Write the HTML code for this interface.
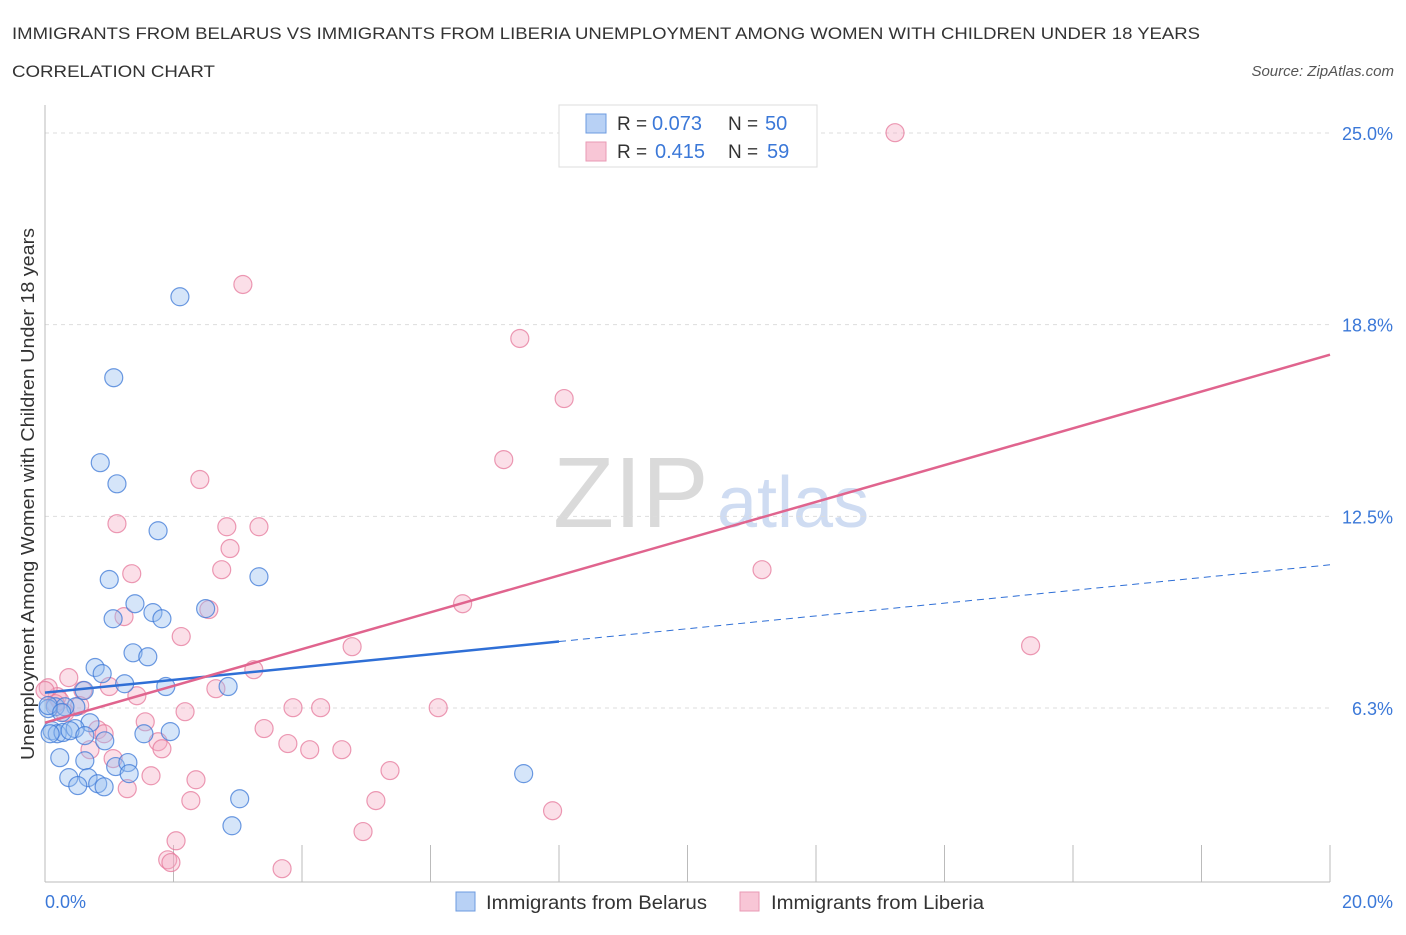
<!DOCTYPE html>
<html><head><meta charset="utf-8"><style>
body{margin:0;background:#fff;font-family:"Liberation Sans",sans-serif;}
svg text{font-family:"Liberation Sans",sans-serif;}
</style></head><body>
<svg width="1406" height="930" xmlns="http://www.w3.org/2000/svg">
<text x="12" y="39" font-size="17" fill="#333" textLength="1188" lengthAdjust="spacingAndGlyphs">IMMIGRANTS FROM BELARUS VS IMMIGRANTS FROM LIBERIA UNEMPLOYMENT AMONG WOMEN WITH CHILDREN UNDER 18 YEARS</text>
<text x="12" y="77" font-size="17" fill="#333" textLength="203" lengthAdjust="spacingAndGlyphs">CORRELATION CHART</text>
<text x="1394" y="76" font-size="15" fill="#555" font-style="italic" text-anchor="end">Source: ZipAtlas.com</text>
<text x="553" y="527" font-size="100" fill="#dadada" font-family="Liberation Serif">ZIP</text>
<text x="717" y="527" font-size="72" fill="#cfdcf2">atlas</text>
<g id="grid"></g>
<g id="axes"></g>
<g id="pts"></g>
<g id="lines"></g>
<text x="34" y="494" font-size="18" fill="#333" text-anchor="middle" textLength="532" lengthAdjust="spacingAndGlyphs" transform="rotate(-90 34 494)">Unemployment Among Women with Children Under 18 years</text>
<g>
<rect x="559" y="105" width="258" height="62" fill="#fff" stroke="#ddd"/>
<rect x="586" y="114" width="20" height="19" fill="#b8d1f5" stroke="#6d9be0"/>
<rect x="586" y="142" width="20" height="19" fill="#f8c6d6" stroke="#e99ab4"/>
<text x="617" y="130" font-size="19" fill="#333">R =</text>
<text x="652" y="130" font-size="20" fill="#3b78d8">0.073</text>
<text x="728" y="130" font-size="19" fill="#333">N =</text>
<text x="765" y="130" font-size="20" fill="#3b78d8">50</text>
<text x="617" y="158" font-size="19" fill="#333">R =</text>
<text x="655" y="158" font-size="20" fill="#3b78d8">0.415</text>
<text x="728" y="158" font-size="19" fill="#333">N =</text>
<text x="767" y="158" font-size="20" fill="#3b78d8">59</text>
</g>
<g>
<rect x="456" y="892" width="19" height="19" fill="#b8d1f5" stroke="#6d9be0"/>
<text x="486" y="909" font-size="19" fill="#333" textLength="221" lengthAdjust="spacingAndGlyphs">Immigrants from Belarus</text>
<rect x="740" y="892" width="19" height="19" fill="#f8c6d6" stroke="#e99ab4"/>
<text x="771" y="909" font-size="19" fill="#333" textLength="213" lengthAdjust="spacingAndGlyphs">Immigrants from Liberia</text>
</g>
</svg>
<script>
const yTicks=[25,18.75,12.5,6.25];
const yTickLabels=["25.0%","18.8%","12.5%","6.3%"];
const xTickLabels=["0.0%","20.0%"];
const belarusX=[2.10,1.07,0.86,1.12,1.76,3.33,1.00,1.40,1.68,1.06,1.82,2.50,1.37,1.60,0.78,0.89,1.24,1.88,2.85,0.61,0.48,0.16,0.31,0.05,0.70,1.54,1.95,0.93,0.11,0.19,0.28,0.47,0.39,0.62,0.23,0.62,1.10,1.29,1.31,0.37,0.67,0.82,0.51,0.92,3.03,2.91,7.45,0.05,0.08,0.26];
const belarusY=[19.66,17.02,14.25,13.56,12.03,10.53,10.44,9.65,9.36,9.16,9.16,9.49,8.05,7.92,7.57,7.37,7.04,6.95,6.95,6.82,6.29,6.29,6.29,6.23,5.77,5.41,5.48,5.18,5.51,5.41,5.45,5.58,5.51,5.35,4.63,4.53,4.34,4.47,4.11,3.98,3.98,3.78,3.72,3.68,3.29,2.41,4.11,6.33,5.41,6.10];
const liberiaX=[13.23,3.08,7.39,8.08,7.14,2.41,1.12,2.83,3.33,2.88,1.35,2.75,11.16,6.50,2.55,1.23,2.12,4.78,15.34,3.25,0.37,0.19,0.59,1.00,1.43,2.66,2.18,3.86,4.29,6.12,0.23,0.54,1.56,3.41,0.82,0.92,1.76,1.82,0.70,3.78,4.12,4.62,1.06,5.37,1.65,2.35,1.28,2.27,5.15,7.90,2.04,4.95,1.91,1.96,3.69,0.05,0.16,0.31,0.00];
const liberiaY=[25.01,20.06,18.30,16.34,14.35,13.70,12.26,12.16,12.16,11.45,10.63,10.76,10.76,9.65,9.46,9.23,8.58,8.25,8.28,7.50,7.24,6.62,6.82,6.95,6.65,6.88,6.13,6.26,6.26,6.26,6.49,6.33,5.80,5.58,5.54,5.41,5.15,4.92,4.89,5.09,4.89,4.89,4.60,4.21,4.04,3.91,3.62,3.23,3.23,2.90,1.92,2.22,1.30,1.21,1.01,6.91,6.39,6.10,6.82];
const belarusTrend=[6.75,10.92];
const liberiaTrend=[5.77,17.77];
const NS="http://www.w3.org/2000/svg";
const X0=45,X1=1330,YT=133,YB=708;
function sx(v){return X0+v/20*(X1-X0);}
function sy(v){return YT+(25-v)/(25-6.25)*(YB-YT);}
function mk(t,a,p){const e=document.createElementNS(NS,t);for(const k in a)e.setAttribute(k,a[k]);p.appendChild(e);return e;}
const grid=document.getElementById('grid'),axes=document.getElementById('axes'),pts=document.getElementById('pts'),lines=document.getElementById('lines');
yTicks.forEach((v,i)=>{
 const l=mk('line',{x1:X0,x2:X1,y1:sy(v),y2:sy(v),stroke:'#ddd','stroke-dasharray':'4,4'},grid);
 
 
 const t=mk('text',{x:1393,y:sy(v)+7,'font-size':18,fill:'#3b78d8','text-anchor':'end'},grid);
 t.textContent=yTickLabels[i];
 
 
});
const ya=mk('line',{x1:X0,x2:X0,y1:105,y2:882,stroke:'#bbb'},axes);


const xa=mk('line',{x1:X0,x2:X1,y1:882,y2:882,stroke:'#bbb'},axes);


for(let k=1;k<=10;k++){
 const l=mk('line',{x1:sx(2*k),x2:sx(2*k),y1:845,y2:882,stroke:'#bbb'},axes);
 
 
}
[[0,'start',45],[20,'end',1393]].forEach((d,i)=>{
 const t=mk('text',{x:d[2],y:908,'font-size':18,fill:'#3b78d8','text-anchor':d[1]},axes);
 t.textContent=xTickLabels[i];
 
 
});
function drawPts(xs,ys,fill,stroke,name){
 xs.forEach((x,i)=>{
  const c=mk('circle',{cx:sx(x),cy:sy(ys[i]),r:9,fill:fill,stroke:stroke,'stroke-width':1.2},pts);
  
  
 });
}
drawPts(liberiaX,liberiaY,'rgba(245,170,195,0.38)','rgba(230,120,155,0.75)','liberia-point');
drawPts(belarusX,belarusY,'rgba(150,190,240,0.4)','rgba(60,120,215,0.75)','belarus-point');
const bAt=x=>belarusTrend[0]+(belarusTrend[1]-belarusTrend[0])*x/20;
const lAt=x=>liberiaTrend[0]+(liberiaTrend[1]-liberiaTrend[0])*x/20;
const b1=mk('line',{x1:sx(0),y1:sy(bAt(0)),x2:sx(8),y2:sy(bAt(8)),stroke:'#2f6fd6','stroke-width':2.5},lines);


const b2=mk('line',{x1:sx(8),y1:sy(bAt(8)),x2:sx(20),y2:sy(bAt(20)),stroke:'#2f6fd6','stroke-width':1,'stroke-dasharray':'7,5'},lines);


const l1=mk('line',{x1:sx(0),y1:sy(lAt(0)),x2:sx(20),y2:sy(lAt(20)),stroke:'#e0648e','stroke-width':2.5},lines);


</script>
</body></html>
